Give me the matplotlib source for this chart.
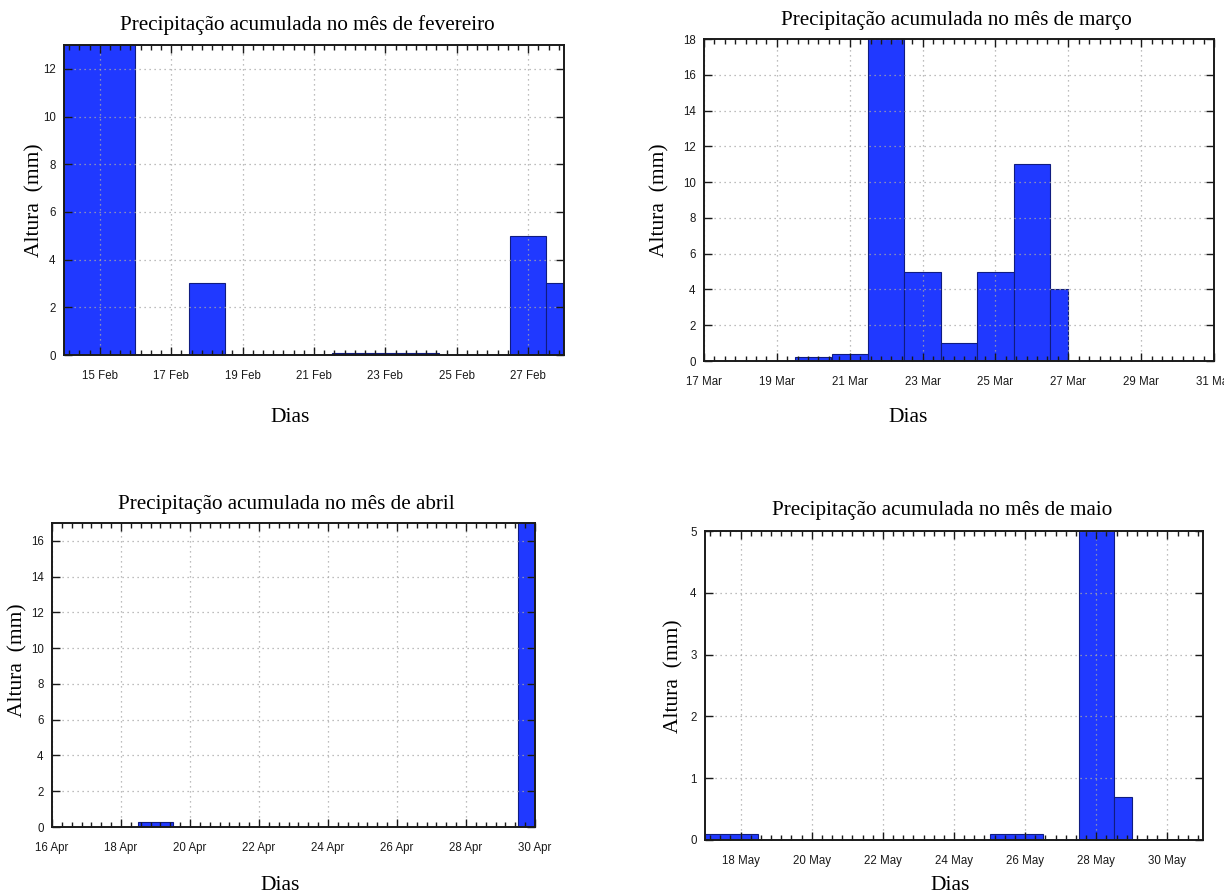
import matplotlib
matplotlib.use("Agg")
import matplotlib.pyplot as plt
import matplotlib.dates as mdates
from matplotlib.ticker import MultipleLocator, AutoMinorLocator
import pandas as pd

# accumulated rain per interval (start, end, mm)
fev_inicio = ["2013-02-13 12:00", "2013-02-17 12:00", "2013-02-21 12:00",
              "2013-02-22 12:00", "2013-02-23 12:00", "2013-02-26 12:00",
              "2013-02-27 12:00"]
fev_fim = ["2013-02-16 00:00", "2013-02-18 12:00", "2013-02-22 12:00",
           "2013-02-23 12:00", "2013-02-24 12:00", "2013-02-27 12:00",
           "2013-02-28 12:00"]
fev_mm = [14, 3, 0.1, 0.1, 0.1, 5, 3]

mar_inicio = ["2013-03-19 12:00", "2013-03-20 12:00", "2013-03-21 12:00",
              "2013-03-22 12:00", "2013-03-23 12:00", "2013-03-24 12:00",
              "2013-03-25 12:00", "2013-03-26 12:00"]
mar_fim = ["2013-03-20 12:00", "2013-03-21 12:00", "2013-03-22 12:00",
           "2013-03-23 12:00", "2013-03-24 12:00", "2013-03-25 12:00",
           "2013-03-26 12:00", "2013-03-27 00:00"]
mar_mm = [0.2, 0.4, 20, 5, 1, 5, 11, 4]

abr_inicio = ["2013-04-18 12:00", "2013-04-29 12:00"]
abr_fim = ["2013-04-19 12:00", "2013-04-30 12:00"]
abr_mm = [0.3, 18]

mai_inicio = ["2013-05-17 00:00", "2013-05-25 00:00", "2013-05-27 12:00",
              "2013-05-28 12:00"]
mai_fim = ["2013-05-18 12:00", "2013-05-26 12:00", "2013-05-28 12:00",
           "2013-05-29 00:00"]
mai_mm = [0.1, 0.1, 6, 0.7]

meses = ["fevereiro", "março", "abril", "maio"]
janelas = [("2013-02-14", "2013-02-28"), ("2013-03-17", "2013-03-31"),
           ("2013-04-16", "2013-04-30"), ("2013-05-17", "2013-05-31")]
ytopo = [13, 18, 17, 5]
ypasso = [2, 2, 2, 1]
dia_tick0 = [15, 17, 16, 18]

dados = [(fev_inicio, fev_fim, fev_mm), (mar_inicio, mar_fim, mar_mm),
         (abr_inicio, abr_fim, abr_mm), (mai_inicio, mai_fim, mai_mm)]

W, H = 1224, 894
# axes boxes in pixels: left, top, right, bottom
caixas = [(64, 45, 564, 355), (704, 39, 1214, 361),
          (52, 523, 535, 827), (705, 531, 1203, 840)]
titulo_xy = [(307, 25), (956, 20), (286, 505), (942, 510)]
xlabel_xy = [(290, 417), (908, 418), (280, 886), (950, 886)]
ylabel_xy = [(35, 200), (660, 200), (18, 660), (674, 676)]

serif = "Liberation Serif"
sans = "Liberation Sans"

fig = plt.figure(figsize=(W / 100, H / 100), dpi=100)

for i in range(4):
    l, t, r, b = caixas[i]
    ax = fig.add_axes([l / W, 1 - b / H, (r - l) / W, (b - t) / H])
    inicio, fim, mm = dados[i]
    x0 = mdates.date2num(pd.to_datetime(inicio))
    x1 = mdates.date2num(pd.to_datetime(fim))
    ax.bar(x0, mm, width=x1 - x0, align="edge", color="#2039ff",
           edgecolor="#101c80", linewidth=0.8, zorder=1)

    ax.xaxis_date()
    ax.set_xlim(mdates.date2num(pd.to_datetime(janelas[i][0])),
                mdates.date2num(pd.to_datetime(janelas[i][1])))
    ax.set_ylim(0, ytopo[i])
    ax.xaxis.set_major_locator(mdates.DayLocator(bymonthday=range(dia_tick0[i], 32, 2)))
    ax.xaxis.set_major_formatter(mdates.DateFormatter("%d %b"))
    ax.xaxis.set_minor_locator(AutoMinorLocator(7))
    ax.yaxis.set_major_locator(MultipleLocator(ypasso[i]))

    ax.set_axisbelow(False)
    ax.grid(True, which="major", linestyle=(0, (1, 3)), color="#a8a8a8",
            linewidth=0.9, zorder=2)
    ax.tick_params(axis="both", which="both", direction="in", top=True,
                   right=True, colors="#1a1a1a", labelsize=8.3, width=1.0)
    ax.tick_params(axis="x", which="major", length=6, pad=11)
    ax.tick_params(axis="x", which="minor", length=3.5)
    ax.tick_params(axis="y", which="major", length=6, pad=6)
    for lbl in ax.get_xticklabels() + ax.get_yticklabels():
        lbl.set_fontfamily(sans)
    for s in ax.spines.values():
        s.set_linewidth(1.4)
        s.set_color("#1a1a1a")
        s.set_zorder(3)

    tx, ty = titulo_xy[i]
    ax.set_title(f"Precipitação acumulada no mês de {meses[i]}", family=serif,
                 fontsize=15.2, x=(tx - l) / (r - l), y=1 + (t - ty) / (b - t),
                 va="center", pad=0)
    ax.set_xlabel("Dias", family=serif, fontsize=15.5, va="center")
    ax.xaxis.set_label_coords((xlabel_xy[i][0] - l) / (r - l),
                              -(xlabel_xy[i][1] - b) / (b - t))
    ax.set_ylabel("Altura  (mm)", family=serif, fontsize=15.5, va="center")
    ax.yaxis.set_label_coords((ylabel_xy[i][0] - l) / (r - l),
                              (b - ylabel_xy[i][1]) / (b - t))

fig.savefig("out.png", dpi=100, facecolor="white")
